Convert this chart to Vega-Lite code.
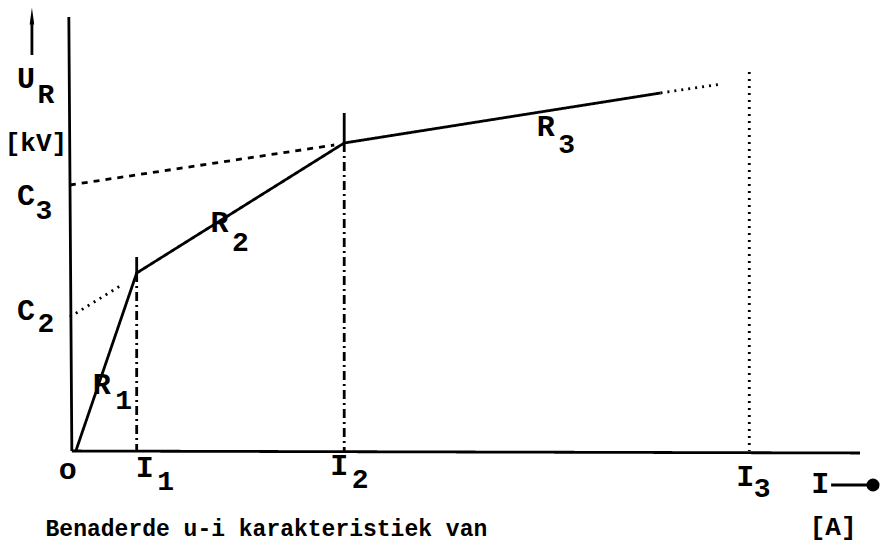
{
  "$schema": "https://vega.github.io/schema/vega-lite/v6.json",
  "width": 880,
  "height": 544,
  "autosize": {"type": "fit", "contains": "padding"},
  "padding": 0,
  "background": "white",
  "config": {"view": {"stroke": null}},
  "datasets": {
    "segments": [
      {"seg": "y-as", "style": "solid", "o": 0, "I": -0.7, "U": 43.4},
      {"seg": "y-as", "style": "solid", "o": 1, "I": -0.4, "U": 0},
      {"seg": "x-as", "style": "solid", "o": 0, "I": -0.4, "U": 0},
      {"seg": "x-as", "style": "solid", "o": 1, "I": 78.6, "U": -0.2},
      {"seg": "karakteristiek", "style": "solid", "o": 0, "I": 0, "U": 0},
      {"seg": "karakteristiek", "style": "solid", "o": 1, "I": 6.1, "U": 17.8},
      {"seg": "karakteristiek", "style": "solid", "o": 2, "I": 26.9, "U": 30.8},
      {"seg": "karakteristiek", "style": "solid", "o": 3, "I": 58.6, "U": 35.8},
      {"seg": "R3 verlengd", "style": "dotted", "o": 0, "I": 58.6, "U": 35.8},
      {"seg": "R3 verlengd", "style": "dotted", "o": 1, "I": 64.8, "U": 36.7},
      {"seg": "C3", "style": "dashed", "o": 0, "I": -0.6, "U": 26.6},
      {"seg": "C3", "style": "dashed", "o": 1, "I": 25.9, "U": 30.6},
      {"seg": "C2", "style": "dotted", "o": 0, "I": -0.6, "U": 13.4},
      {"seg": "C2", "style": "dotted", "o": 1, "I": 4.6, "U": 16.6},
      {"seg": "I1 streep", "style": "solid", "o": 0, "I": 6.1, "U": 19.4},
      {"seg": "I1 streep", "style": "solid", "o": 1, "I": 6.1, "U": 17.8},
      {"seg": "I1", "style": "dashdot", "o": 0, "I": 6.1, "U": 17.8},
      {"seg": "I1", "style": "dashdot", "o": 1, "I": 6.1, "U": 0},
      {"seg": "I2 streep", "style": "solid", "o": 0, "I": 26.9, "U": 33.8},
      {"seg": "I2 streep", "style": "solid", "o": 1, "I": 26.9, "U": 30.8},
      {"seg": "I2", "style": "dashdot", "o": 0, "I": 26.9, "U": 30.8},
      {"seg": "I2", "style": "dashdot", "o": 1, "I": 26.9, "U": 0},
      {"seg": "I3", "style": "dotted", "o": 0, "I": 67.5, "U": 37.9},
      {"seg": "I3", "style": "dotted", "o": 1, "I": 67.5, "U": 0},
      {"seg": "pijl U", "style": "solid", "o": 0, "I": -4.4, "U": 39.6},
      {"seg": "pijl U", "style": "solid", "o": 1, "I": -4.4, "U": 43.0},
      {"seg": "pijl I", "style": "solid", "o": 0, "I": 75.7, "U": -3.4},
      {"seg": "pijl I", "style": "solid", "o": 1, "I": 79.7, "U": -3.4}
    ],
    "heads": [
      {"kind": "triangle-up", "I": -4.4, "U": 43.3},
      {"kind": "circle", "I": 79.9, "U": -3.4}
    ],
    "letters": [
      {"t": "U", "I": -5.0, "U": 37.2},
      {"t": "C", "I": -5.0, "U": 25.5},
      {"t": "C", "I": -5.0, "U": 14.0},
      {"t": "R", "I": 2.6, "U": 6.6},
      {"t": "R", "I": 14.4, "U": 22.8},
      {"t": "R", "I": 47.1, "U": 32.4},
      {"t": "o", "I": -0.8, "U": -1.9},
      {"t": "I", "I": 6.9, "U": -1.7},
      {"t": "I", "I": 26.4, "U": -1.5},
      {"t": "I", "I": 67.1, "U": -2.6},
      {"t": "I", "I": 74.6, "U": -3.3}
    ],
    "units": [
      {"t": "[kV]", "I": -4.0, "U": 30.8},
      {"t": "[A]", "I": 75.9, "U": -7.6}
    ],
    "subscripts": [
      {"t": "R", "I": -3.0, "U": 35.6},
      {"t": "3", "I": -3.2, "U": 24.0},
      {"t": "2", "I": -3.0, "U": 12.7},
      {"t": "1", "I": 4.8, "U": 5.0},
      {"t": "2", "I": 16.5, "U": 20.8},
      {"t": "3", "I": 49.2, "U": 30.6},
      {"t": "1", "I": 9.0, "U": -3.1},
      {"t": "2", "I": 28.5, "U": -2.9},
      {"t": "3", "I": 68.8, "U": -3.8}
    ],
    "caption": [
      {"t": "Benaderde u-i karakteristiek van", "I": 19.1, "U": -7.8}
    ]
  },
  "encoding": {
    "x": {"field": "I", "type": "quantitative", "scale": {"domain": [-7.6, 80.4], "nice": false, "zero": false}, "axis": null},
    "y": {"field": "U", "type": "quantitative", "scale": {"domain": [-9.3, 45.1], "nice": false, "zero": false}, "axis": null}
  },
  "layer": [
    {
      "data": {"name": "segments"},
      "mark": {"type": "line", "color": "black", "strokeWidth": 2.8, "strokeCap": "butt", "strokeJoin": "round"},
      "encoding": {
        "detail": {"field": "seg"},
        "order": {"field": "o", "type": "quantitative"},
        "strokeDash": {
          "field": "style",
          "type": "nominal",
          "scale": {"domain": ["solid", "dashed", "dotted", "dashdot"], "range": [[1, 0], [6, 6], [2, 5], [9, 4, 2, 4]]},
          "legend": null
        }
      }
    },
    {
      "data": {"name": "heads"},
      "mark": {"type": "point", "filled": true, "color": "black", "opacity": 1, "size": 170},
      "encoding": {
        "shape": {"field": "kind", "type": "nominal", "scale": {"domain": ["triangle-up", "circle"], "range": ["M-0.35,1L0,-1.6L0.35,1Z", "circle"]}, "legend": null}
      }
    },
    {
      "data": {"name": "letters"},
      "mark": {"type": "text", "font": "Liberation Mono", "fontSize": 30, "fontWeight": "bold", "color": "black", "align": "center", "baseline": "middle"},
      "encoding": {"text": {"field": "t"}}
    },
    {
      "data": {"name": "units"},
      "mark": {"type": "text", "font": "Liberation Mono", "fontSize": 26, "fontWeight": "bold", "color": "black", "align": "center", "baseline": "middle"},
      "encoding": {"text": {"field": "t"}}
    },
    {
      "data": {"name": "subscripts"},
      "mark": {"type": "text", "font": "Liberation Mono", "fontSize": 28, "fontWeight": "bold", "color": "black", "align": "center", "baseline": "middle"},
      "encoding": {"text": {"field": "t"}}
    },
    {
      "data": {"name": "caption"},
      "mark": {"type": "text", "font": "Liberation Mono", "fontSize": 23, "fontWeight": "bold", "color": "black", "align": "center", "baseline": "middle"},
      "encoding": {"text": {"field": "t"}}
    }
  ]
}
